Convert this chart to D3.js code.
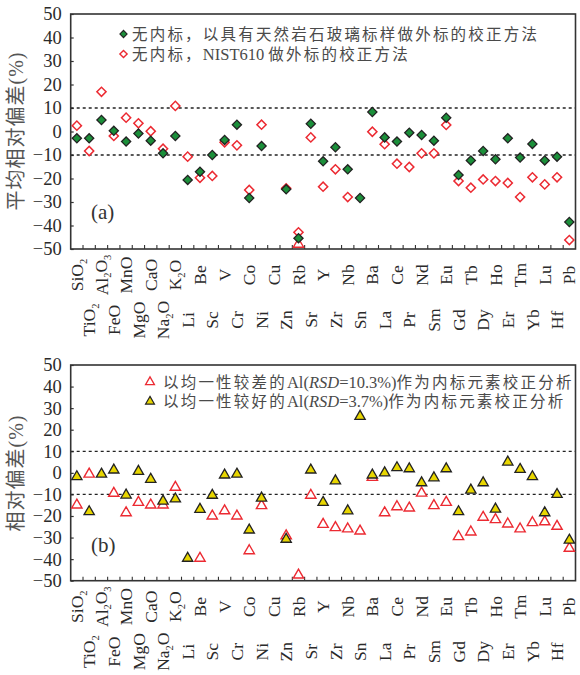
<!DOCTYPE html>
<html><head><meta charset="utf-8">
<script src="https://cdn.jsdelivr.net/npm/d3@7"></script>
<style>
html,body{margin:0;padding:0;background:#fff;}
svg{display:block;}
</style></head>
<body><div id="chart"></div>
<script>
// ---------------- data ----------------
const categories = ["SiO2","TiO2","Al2O3","FeO","MnO","MgO","CaO","Na2O","K2O","Li","Be","Sc","V","Cr","Co","Ni","Cu","Zn","Rb","Sr","Y","Zr","Nb","Sn","Ba","La","Ce","Pr","Nd","Sm","Eu","Gd","Tb","Dy","Ho","Er","Tm","Yb","Lu","Hf","Pb"];
const yTicks = [-50,-40,-30,-20,-10,0,10,20,30,40,50];
const refLines = [10,-10];

// panel (a)
const glassCal = [-2.9,-2.9,4.9,0.3,-4.3,-0.9,-3.9,-9.3,-1.9,-20.6,-17.1,-10.0,-3.6,2.9,-28.3,-6.2,null,-24.6,-45.4,3.3,-12.7,-6.7,-16.1,-28.3,8.3,-2.5,-4.3,-0.5,-1.5,-3.9,5.9,-18.5,-12.3,-8.3,-11.8,-2.9,-11.1,-5.3,-12.3,-10.7,-38.5];
const nistCal = [2.5,-8.3,16.9,-1.9,5.9,3.5,0.1,-7.3,10.9,-10.7,-19.7,-18.9,-4.6,-5.9,-24.9,2.9,null,-24.2,-42.9,-2.5,-23.5,-16.1,-27.9,null,-0.1,-5.4,-13.7,-15.1,-9.3,-9.3,2.8,-21.1,-23.9,-20.4,-21.1,-21.9,-27.9,-19.5,-22.5,-19.5,-46.2];
const strayA = [{cat:"Rb", value:-48}];

// panel (b)
const poorAl = [-14.9,-0.6,null,-9.5,-18.5,-13.7,-14.9,-14.9,-6.7,null,-39.6,-20.0,-17.6,-20.0,-36.1,-15.2,null,-29.2,-47.4,-10.4,-23.9,-25.4,-26.0,-27.0,-2.1,-18.5,-15.7,-16.3,-9.4,-15.2,-13.7,-29.6,-27.4,-20.6,-21.7,-23.7,-26.0,-23.1,-22.7,-24.8,-35.0];
const goodAl = [-1.8,-18.0,-0.6,1.3,-10.3,0.7,-3.0,-13.1,-12.1,-39.6,-16.9,-10.4,-1.0,-0.6,-26.5,-11.7,null,-30.8,null,1.3,-13.7,-3.7,-17.6,26.2,-1.0,0.0,2.4,1.9,-4.6,-2.3,1.9,-18.0,-8.0,-4.6,-16.8,5.0,1.6,-1.8,-18.5,-10.0,-31.2];

const titleA = "平均相对偏差(%)";
const titleB = "相对偏差(%)";
const legendA = [
  [{t:"无内标，以具有天然岩石玻璃标样做外标的校正方法", cjk:true}],
  [{t:"无内标，", cjk:true},{t:"NIST610 "},{t:"做外标的校正方法", cjk:true}]
];
const legendB = [
  [{t:"以均一性较差的", cjk:true},{t:"Al("},{t:"RSD", it:true},{t:"=10.3%)"},{t:"作为内标元素校正分析", cjk:true}],
  [{t:"以均一性较好的", cjk:true},{t:"Al("},{t:"RSD", it:true},{t:"=3.7%)"},{t:"作为内标元素校正分析", cjk:true}]
];

// ---------------- drawing ----------------
const W = 580, H = 675;
const X0 = 70.7, X1 = 575.5;
const SERIF = "'Liberation Serif','Times New Roman',serif";
const MIX = "'Liberation Serif','Noto Sans CJK SC',serif";
const CJK = "'Noto Sans CJK SC','Liberation Serif',sans-serif";
const GREEN = "#1b8f3a", RED = "#ec2a32", YELLOW = "#e8d600", DARK = "#222";

const svg = d3.select("#chart").append("svg").attr("width", W).attr("height", H);

const x = d3.scaleBand().domain(categories).range([X0, X1]).padding(0);
const bw = x.bandwidth();
const cx = c => x(c) + bw / 2;

const diamond = d3.symbol().type(d3.symbolSquare).size(42);
const diamondSmall = d3.symbol().type(d3.symbolSquare).size(26);
const tri = d3.symbol().type(d3.symbolTriangle).size(46);
const triSmall = d3.symbol().type(d3.symbolTriangle).size(34);

function labelSegments(sel, name) {
  // digits rendered as subscripts
  const parts = name.match(/[A-Za-z]+|\d+/g);
  let sub = false;
  parts.forEach(p => {
    const isNum = /\d/.test(p);
    const t = sel.append("tspan").text(p);
    if (isNum) { t.attr("font-size", 10.5).attr("dy", "0.35em"); sub = true; }
    else if (sub) { t.attr("dy", "-0.22em"); sub = false; }
  });
}

function legendText(g, segs, xx, yy) {
  const t = g.append("text").attr("x", xx).attr("y", yy).attr("dy", "0.36em")
    .attr("font-size", 16).attr("fill", "#4a4a4a").attr("font-family", MIX);
  segs.forEach(s => {
    const sp = t.append("tspan").text(s.t);
    if (s.cjk) sp.attr("font-family", CJK).attr("letter-spacing", "2.2px").attr("font-size", 15.5);
    else sp.attr("font-family", SERIF).attr("font-size", 16.5);
    if (s.it) sp.attr("font-style", "italic");
  });
}

function panel(cfg) {
  const y = d3.scaleLinear().domain([-50, 50]).range([cfg.bottom, cfg.top]);
  const g = svg.append("g");

  // y axis
  const ax = g.append("g").attr("transform", `translate(${X0},0)`)
    .call(d3.axisLeft(y).tickValues(yTicks).tickSizeInner(-3).tickSizeOuter(0).tickPadding(9));
  ax.select(".domain").remove();
  ax.selectAll(".tick line").attr("stroke", "#333").attr("stroke-width", 1.2);
  ax.selectAll(".tick text").attr("font-family", SERIF).attr("font-size", 18.5).attr("fill", "#2a2a2a");

  // reference lines
  g.selectAll(".ref").data(refLines).join("line")
    .attr("x1", X0).attr("x2", X1).attr("y1", d => y(d)).attr("y2", d => y(d))
    .attr("stroke", "#222").attr("stroke-width", 1.3).attr("stroke-dasharray", "3,3");

  // x ticks (inside) at band boundaries
  g.selectAll(".xt").data(categories.slice(1)).join("line")
    .attr("x1", d => x(d)).attr("x2", d => x(d))
    .attr("y1", cfg.bottom).attr("y2", cfg.bottom - 4)
    .attr("stroke", "#333").attr("stroke-width", 1.1);

  // frame
  g.append("rect").attr("x", X0).attr("y", cfg.top).attr("width", X1 - X0).attr("height", cfg.bottom - cfg.top)
    .attr("fill", "none").attr("stroke", "#333").attr("stroke-width", 1.6);

  // x labels
  categories.forEach((c, i) => {
    const off = i % 2 === 0 ? 26 : 71;
    const t = g.append("text")
      .attr("transform", `translate(${cx(c)},${cfg.bottom + off}) rotate(-90)`)
      .attr("text-anchor", "middle").attr("dy", "0.35em")
      .attr("font-family", SERIF).attr("font-size", 17.5).attr("fill", "#2a2a2a");
    labelSegments(t, c);
  });

  // y title
  g.append("text")
    .attr("transform", `translate(16,${cfg.titleY}) rotate(-90)`)
    .attr("text-anchor", "middle").attr("dy", "0.36em")
    .attr("font-family", MIX).attr("font-size", 20).attr("fill", "#555")
    .attr("letter-spacing", "1px")
    .text(cfg.title);

  // panel letter
  g.append("text").attr("x", 91).attr("y", cfg.letterY)
    .attr("font-family", SERIF).attr("font-size", 21).attr("fill", "#333").text(cfg.letter);

  return {g, y};
}

// ----- panel (a)
{
  const {g, y} = panel({top: 14, bottom: 249, title: titleA, titleY: 131, letter: "(a)", letterY: 219});
  const pts = (arr) => categories.map((c, i) => ({c, v: arr[i]})).filter(d => d.v !== null);
  g.selectAll(".stray").data(strayA).join("path")
    .attr("d", tri).attr("transform", d => `translate(${cx(d.cat)},${y(d.value)})`)
    .attr("fill", "none").attr("stroke", RED).attr("stroke-width", 1.4);
  g.selectAll(".nist").data(pts(nistCal)).join("path")
    .attr("d", diamond).attr("transform", d => `translate(${cx(d.c)},${y(d.v)}) rotate(45)`)
    .attr("fill", "#fff").attr("stroke", RED).attr("stroke-width", 1.5);
  g.selectAll(".glass").data(pts(glassCal)).join("path")
    .attr("d", diamond).attr("transform", d => `translate(${cx(d.c)},${y(d.v)}) rotate(45)`)
    .attr("fill", GREEN).attr("stroke", DARK).attr("stroke-width", 1.3);

  // legend
  const lg = svg.append("g");
  lg.append("path").attr("d", diamondSmall).attr("transform", "translate(123.5,34) rotate(45)")
    .attr("fill", GREEN).attr("stroke", DARK).attr("stroke-width", 1.1);
  lg.append("path").attr("d", diamondSmall).attr("transform", "translate(123.5,54) rotate(45)")
    .attr("fill", "#fff").attr("stroke", RED).attr("stroke-width", 1.4);
  legendText(lg, legendA[0], 132, 34);
  legendText(lg, legendA[1], 132, 54);
}

// ----- panel (b)
{
  const {g, y} = panel({top: 365, bottom: 580.7, title: titleB, titleY: 473, letter: "(b)", letterY: 552});
  const pts = (arr) => categories.map((c, i) => ({c, v: arr[i]})).filter(d => d.v !== null);
  g.selectAll(".poor").data(pts(poorAl)).join("path")
    .attr("d", tri).attr("transform", d => `translate(${cx(d.c)},${y(d.v)})`)
    .attr("fill", "#fff").attr("stroke", RED).attr("stroke-width", 1.4);
  g.selectAll(".good").data(pts(goodAl)).join("path")
    .attr("d", tri).attr("transform", d => `translate(${cx(d.c)},${y(d.v)})`)
    .attr("fill", YELLOW).attr("stroke", DARK).attr("stroke-width", 1.3);

  const lg = svg.append("g");
  lg.append("path").attr("d", triSmall).attr("transform", "translate(150,382)")
    .attr("fill", "#fff").attr("stroke", RED).attr("stroke-width", 1.3);
  lg.append("path").attr("d", triSmall).attr("transform", "translate(150,401.5)")
    .attr("fill", YELLOW).attr("stroke", DARK).attr("stroke-width", 1.2);
  legendText(lg, legendB[0], 163, 382);
  legendText(lg, legendB[1], 163, 401.5);
}
</script>
</body></html>
